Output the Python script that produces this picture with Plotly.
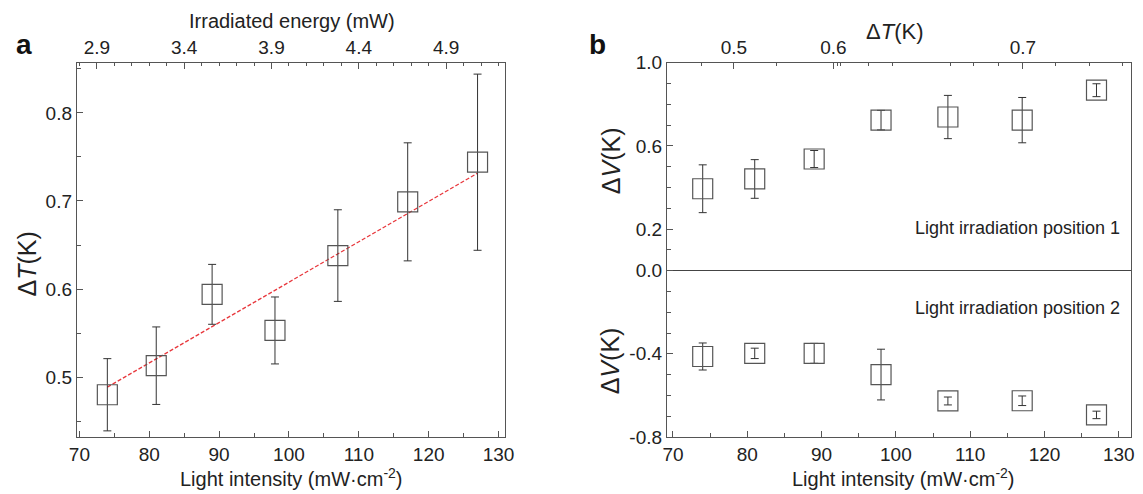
import plotly.graph_objects as go

# ---------------- data ----------------
intensity = [74, 81, 89, 98, 107, 117, 127]          # mW·cm^-2
delta_T = [0.480, 0.513, 0.594, 0.553, 0.638, 0.699, 0.744]
delta_T_err = [0.041, 0.044, 0.034, 0.038, 0.052, 0.067, 0.100]

fit_intensity = [74, 127]
fit_delta_T = [0.4886, 0.7316]

delta_V_pos1 = [0.394, 0.441, 0.537, 0.724, 0.739, 0.724, 0.868]
delta_V_pos1_err = [0.115, 0.093, 0.041, 0.047, 0.104, 0.109, 0.031]
delta_V_pos2 = [-0.413, -0.398, -0.398, -0.500, -0.627, -0.626, -0.694]
delta_V_pos2_err = [0.065, 0.025, 0.048, 0.122, 0.019, 0.023, 0.018]

intensity_tick0, intensity_dtick = 70, 10
energy_per_intensity = 0.04            # mW per (mW·cm^-2)
energy_tick0, energy_dtick = 2.9, 0.5

dT_top_tick_pos = [78.2, 91.6, 117.1]
dT_top_tick_text = ["0.5", "0.6", "0.7"]
dT_top_minor_pos = [73.9, 83.9, 92.1, 92.5, 96.3, 99.5, 107.4, 110.5, 113.8,
                    121.5, 126.0, 130.5]

dV_tick_vals = [-0.8, -0.4, 0.0, 0.2, 0.6, 1.0]
dV_tick_text = ["-0.8", "-0.4", "0.0", "0.2", "0.6", "1.0"]
dV_minor_vals = [-0.7, -0.6, -0.5, -0.3, -0.2, -0.1, 0.1, 0.3, 0.4, 0.5,
                 0.7, 0.8, 0.9]

# ---------------- layout helpers ----------------
W, H = 1143, 494
FONT = "Arial, Liberation Sans, sans-serif"
AX = "#555555"


def px(x):
    return x / W


def py(y):
    return 1 - y / H


a_dom = [px(70), px(505)]
b_dom = [px(669), px(1140)]
y_dom = [py(446), py(55)]
a_range = [69.65, 131.0]
b_range = [69.2, 131.65]

tickfont = dict(family=FONT, size=19, color="#222")
base = dict(showline=True, linecolor=AX, linewidth=1.3, ticks="inside",
            ticklen=6, tickwidth=1, tickcolor=AX, tickfont=tickfont,
            showgrid=False, zeroline=False)


def minor(**kw):
    d = dict(ticks="inside", ticklen=3.5, tickwidth=1, tickcolor=AX,
             showgrid=False)
    d.update(kw)
    return d


fig = go.Figure()

mk = dict(symbol="square-open", size=20, color="#555555",
          line=dict(width=1.2, color="#555555"))


def err(arr):
    return dict(type="data", array=arr, color="#333333", thickness=1,
                width=4)


# panel a
fig.add_trace(go.Scatter(x=fit_intensity, y=fit_delta_T, mode="lines",
                         line=dict(color="#e8383d", width=1.3,
                                   dash="4px,2px"),
                         xaxis="x", yaxis="y", showlegend=False))
fig.add_trace(go.Scatter(x=intensity, y=delta_T, mode="markers", marker=mk,
                         error_y=err(delta_T_err), xaxis="x", yaxis="y",
                         showlegend=False))
# invisible companion on the energy (top) axis so it is drawn
fig.add_trace(go.Scatter(x=[i * energy_per_intensity for i in intensity],
                         y=delta_T, mode="markers", marker=dict(opacity=0),
                         hoverinfo="skip", xaxis="x2", yaxis="y",
                         showlegend=False))
# panel b
fig.add_trace(go.Scatter(x=intensity, y=delta_V_pos1, mode="markers",
                         marker=mk, error_y=err(delta_V_pos1_err),
                         xaxis="x3", yaxis="y2", showlegend=False))
fig.add_trace(go.Scatter(x=intensity, y=delta_V_pos2, mode="markers",
                         marker=mk, error_y=err(delta_V_pos2_err),
                         xaxis="x3", yaxis="y2", showlegend=False))
fig.add_trace(go.Scatter(x=intensity, y=delta_V_pos1, mode="markers",
                         marker=dict(opacity=0), hoverinfo="skip",
                         xaxis="x4", yaxis="y2", showlegend=False))

fig.update_layout(
    width=W, height=H,
    margin=dict(l=0, r=0, t=0, b=0),
    paper_bgcolor="white", plot_bgcolor="white",
    font=dict(family=FONT, color="#222"),
    xaxis=dict(base, domain=a_dom, anchor="y", range=a_range,
               tick0=intensity_tick0, dtick=intensity_dtick, mirror=True,
               minor=minor(tick0=intensity_tick0, dtick=intensity_dtick / 2)),
    yaxis=dict(base, domain=y_dom, anchor="x", range=[0.432, 0.857],
               tick0=0.5, dtick=0.1, tickformat=".1f", mirror=True,
               minor=minor(tick0=0.5, dtick=0.05)),
    xaxis2=dict(base, overlaying="x", side="top", anchor="y",
                range=[a_range[0] * energy_per_intensity,
                       a_range[1] * energy_per_intensity],
                tick0=energy_tick0, dtick=energy_dtick, tickformat=".1f",
                minor=minor(tick0=energy_tick0, dtick=0.1)),
    xaxis3=dict(base, domain=b_dom, anchor="y2", range=b_range,
                tick0=intensity_tick0, dtick=intensity_dtick, mirror=True,
                minor=minor(tick0=intensity_tick0,
                            dtick=intensity_dtick / 2)),
    yaxis2=dict(base, domain=y_dom, anchor="x3", range=[-0.8005, 1.0005],
                tickmode="array", tickvals=dV_tick_vals,
                ticktext=dV_tick_text, mirror=True,
                zeroline=True, zerolinecolor="#444444", zerolinewidth=1.3,
                minor=minor(tickmode="array", tickvals=dV_minor_vals)),
    xaxis4=dict(base, overlaying="x3", side="top", anchor="y2",
                range=b_range, tickmode="array", tickvals=dT_top_tick_pos,
                ticktext=dT_top_tick_text,
                minor=minor(tickmode="array", tickvals=dT_top_minor_pos)),
)

tfont = dict(family=FONT, size=20, color="#222")
yfont = dict(family=FONT, size=25, color="#222")
ann = [
    dict(text="Irradiated energy (mW)", x=px(288), y=py(12), font=tfont),
    dict(text="Light intensity (mW·cm<sup>-2</sup>)", x=px(288), y=py(488),
         font=tfont),
    dict(text="Light intensity (mW·cm<sup>-2</sup>)", x=px(909), y=py(488),
         font=tfont),
    dict(text="Δ<i>T</i>(K)", x=px(19), y=py(265), font=yfont,
         textangle=-90),
    dict(text="Δ<i>T</i>(K)", x=px(900), y=py(22),
         font=dict(family=FONT, size=22, color="#222")),
    dict(text="Δ<i>V</i>(K)", x=px(612), y=py(157), font=yfont,
         textangle=-90),
    dict(text="Δ<i>V</i>(K)", x=px(612), y=py(366), font=yfont,
         textangle=-90),
    dict(text="Light irradiation position 1", x=px(1131), y=py(228),
         xanchor="right", font=dict(family=FONT, size=18, color="#222")),
    dict(text="Light irradiation position 2", x=px(1131), y=py(311),
         xanchor="right", font=dict(family=FONT, size=18, color="#222")),
    dict(text="<b>a</b>", x=px(16), y=py(36),
         font=dict(family=FONT, size=28, color="#111")),
    dict(text="<b>b</b>", x=px(598), y=py(36),
         font=dict(family=FONT, size=28, color="#111")),
]
for a in ann:
    a.setdefault("xanchor", "center")
    fig.add_annotation(xref="paper", yref="paper", yanchor="middle",
                       showarrow=False, **a)

# page without default body margin so the figure fills the window exactly
page_css = ("document.documentElement.style.margin='0';"
            "document.body.style.margin='0';"
            "document.body.style.padding='0';"
            "document.documentElement.style.overflow='hidden';"
            "document.body.style.overflow='hidden';")

fig.write_html("out.html", post_script=page_css,
               config={"displayModeBar": False})
